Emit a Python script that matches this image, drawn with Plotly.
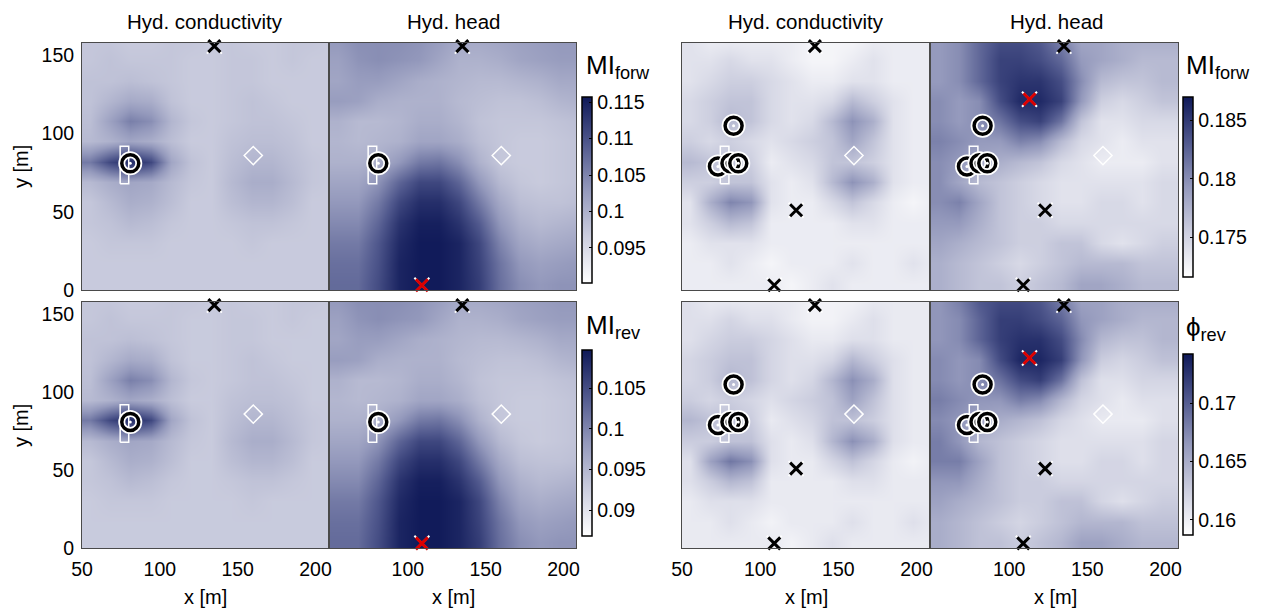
import plotly.graph_objects as go

# ---------------- grid nodes (m) ----------------
X_NODES = [55, 68, 81, 94, 107, 120, 133, 146, 159, 172, 185, 198, 211]
Y_NODES_TOP_DOWN = [160, 147, 134, 121, 108, 95, 82, 69, 56, 43, 30, 17, 4]

# ---------------- left group, MI_forw ----------------
K_FORW_LEFT = [
    [0.0975,0.0975,0.097,0.097,0.0975,0.0975,0.097,0.0975,0.097,0.097,0.0975,0.0975,0.097],
    [0.0975,0.098,0.0975,0.0975,0.0975,0.097,0.097,0.0975,0.0975,0.097,0.0975,0.097,0.097],
    [0.098,0.098,0.0985,0.098,0.0975,0.097,0.097,0.0975,0.0975,0.097,0.097,0.097,0.097],
    [0.098,0.0995,0.101,0.1005,0.098,0.097,0.097,0.0975,0.098,0.0975,0.097,0.097,0.097],
    [0.0985,0.102,0.1055,0.104,0.0995,0.0975,0.097,0.0975,0.098,0.098,0.0975,0.097,0.097],
    [0.099,0.1,0.1015,0.1005,0.0985,0.097,0.097,0.098,0.0985,0.0985,0.098,0.097,0.097],
    [0.106,0.111,0.114,0.111,0.1015,0.098,0.097,0.0985,0.0995,0.0995,0.0985,0.0975,0.097],
    [0.099,0.1005,0.1015,0.101,0.099,0.0975,0.097,0.099,0.1005,0.1005,0.099,0.0975,0.097],
    [0.0975,0.099,0.1005,0.1,0.0985,0.097,0.097,0.0985,0.0995,0.0995,0.0985,0.097,0.097],
    [0.0975,0.098,0.099,0.0985,0.0975,0.097,0.097,0.0975,0.098,0.098,0.0975,0.097,0.097],
    [0.097,0.0975,0.0975,0.0975,0.097,0.097,0.097,0.097,0.0975,0.097,0.097,0.097,0.097],
    [0.097,0.097,0.097,0.097,0.097,0.097,0.097,0.097,0.097,0.097,0.097,0.097,0.097],
    [0.097,0.097,0.097,0.097,0.097,0.097,0.097,0.097,0.097,0.097,0.097,0.097,0.097],
]
H_FORW_LEFT = [
    [0.103,0.104,0.104,0.104,0.1035,0.1025,0.101,0.101,0.1015,0.102,0.1025,0.103,0.103],
    [0.102,0.1035,0.104,0.1035,0.103,0.1015,0.1,0.1,0.1005,0.1015,0.102,0.1025,0.1025],
    [0.1015,0.1025,0.1025,0.1015,0.1005,0.1,0.0995,0.099,0.099,0.0995,0.1,0.101,0.101],
    [0.1025,0.102,0.1005,0.1,0.1,0.1,0.099,0.0985,0.098,0.098,0.0985,0.0995,0.1],
    [0.1,0.099,0.099,0.0995,0.1005,0.1005,0.0995,0.098,0.0975,0.0975,0.0975,0.098,0.0985],
    [0.0995,0.099,0.0995,0.1,0.1015,0.1015,0.1005,0.0985,0.0975,0.097,0.097,0.0975,0.098],
    [0.1,0.1,0.1005,0.103,0.106,0.1065,0.104,0.1,0.0975,0.097,0.097,0.0975,0.098],
    [0.1015,0.1015,0.1035,0.108,0.111,0.111,0.108,0.103,0.099,0.0975,0.097,0.0975,0.098],
    [0.103,0.103,0.106,0.111,0.1135,0.1135,0.111,0.106,0.101,0.0985,0.098,0.098,0.0985],
    [0.1045,0.1045,0.108,0.113,0.115,0.115,0.113,0.109,0.103,0.1,0.099,0.0995,0.1],
    [0.106,0.106,0.1095,0.114,0.1155,0.1155,0.1145,0.111,0.105,0.1015,0.1005,0.101,0.1015],
    [0.107,0.107,0.11,0.1145,0.1155,0.1155,0.1145,0.1115,0.1065,0.103,0.102,0.1025,0.103],
    [0.1075,0.1075,0.1105,0.1145,0.1155,0.1155,0.1145,0.112,0.107,0.104,0.103,0.1035,0.1035],
]
# ---------------- left group, MI_rev ----------------
K_REV_LEFT = [
    [0.0933,0.0933,0.0929,0.0929,0.0933,0.0933,0.0929,0.0933,0.0929,0.0929,0.0933,0.0933,0.0929],
    [0.0933,0.0938,0.0933,0.0933,0.0933,0.0929,0.0929,0.0933,0.0933,0.0929,0.0933,0.0929,0.0929],
    [0.0938,0.0938,0.0942,0.0938,0.0933,0.0929,0.0929,0.0933,0.0933,0.0929,0.0929,0.0929,0.0929],
    [0.0938,0.0951,0.0965,0.0960,0.0938,0.0929,0.0929,0.0933,0.0938,0.0933,0.0929,0.0929,0.0929],
    [0.0942,0.0974,0.1005,0.0992,0.0951,0.0933,0.0929,0.0933,0.0938,0.0938,0.0933,0.0929,0.0929],
    [0.0947,0.0956,0.0969,0.0960,0.0942,0.0929,0.0929,0.0938,0.0942,0.0942,0.0938,0.0929,0.0929],
    [0.1010,0.1055,0.1082,0.1055,0.0969,0.0938,0.0929,0.0942,0.0951,0.0951,0.0942,0.0933,0.0929],
    [0.0947,0.0960,0.0969,0.0965,0.0947,0.0933,0.0929,0.0947,0.0960,0.0960,0.0947,0.0933,0.0929],
    [0.0933,0.0947,0.0960,0.0956,0.0942,0.0929,0.0929,0.0942,0.0951,0.0951,0.0942,0.0929,0.0929],
    [0.0933,0.0938,0.0947,0.0942,0.0933,0.0929,0.0929,0.0933,0.0938,0.0938,0.0933,0.0929,0.0929],
    [0.0929,0.0933,0.0933,0.0933,0.0929,0.0929,0.0929,0.0929,0.0933,0.0929,0.0929,0.0929,0.0929],
    [0.0929,0.0929,0.0929,0.0929,0.0929,0.0929,0.0929,0.0929,0.0929,0.0929,0.0929,0.0929,0.0929],
    [0.0929,0.0929,0.0929,0.0929,0.0929,0.0929,0.0929,0.0929,0.0929,0.0929,0.0929,0.0929,0.0929],
]
H_REV_LEFT = [
    [0.0983,0.0992,0.0992,0.0992,0.0987,0.0978,0.0965,0.0965,0.0969,0.0974,0.0978,0.0983,0.0983],
    [0.0974,0.0987,0.0992,0.0987,0.0983,0.0969,0.0956,0.0956,0.0960,0.0969,0.0974,0.0978,0.0978],
    [0.0969,0.0978,0.0978,0.0969,0.0960,0.0956,0.0951,0.0947,0.0947,0.0951,0.0956,0.0965,0.0965],
    [0.0978,0.0974,0.0960,0.0956,0.0956,0.0956,0.0947,0.0942,0.0938,0.0938,0.0942,0.0951,0.0956],
    [0.0956,0.0947,0.0947,0.0951,0.0960,0.0960,0.0951,0.0938,0.0933,0.0933,0.0933,0.0938,0.0942],
    [0.0951,0.0947,0.0951,0.0956,0.0969,0.0969,0.0960,0.0942,0.0933,0.0929,0.0929,0.0933,0.0938],
    [0.0956,0.0956,0.0960,0.0983,0.1010,0.1014,0.0992,0.0956,0.0933,0.0929,0.0929,0.0933,0.0938],
    [0.0969,0.0969,0.0987,0.1028,0.1055,0.1055,0.1028,0.0983,0.0947,0.0933,0.0929,0.0933,0.0938],
    [0.0983,0.0983,0.1010,0.1055,0.1077,0.1077,0.1055,0.1010,0.0965,0.0942,0.0938,0.0938,0.0942],
    [0.0996,0.0996,0.1028,0.1073,0.1091,0.1091,0.1073,0.1037,0.0983,0.0956,0.0947,0.0951,0.0956],
    [0.1010,0.1010,0.1041,0.1082,0.1095,0.1095,0.1086,0.1055,0.1001,0.0969,0.0960,0.0965,0.0969],
    [0.1019,0.1019,0.1046,0.1086,0.1095,0.1095,0.1086,0.1059,0.1014,0.0983,0.0974,0.0978,0.0983],
    [0.1023,0.1023,0.1050,0.1086,0.1095,0.1095,0.1086,0.1064,0.1019,0.0992,0.0983,0.0987,0.0987],
]
# ---------------- right group, MI_forw ----------------
K_FORW_RIGHT = [
    [0.1739,0.1731,0.1731,0.1731,0.1731,0.1731,0.1724,0.1724,0.1724,0.1731,0.1731,0.1731,0.1731],
    [0.1739,0.1739,0.1746,0.1739,0.1739,0.1731,0.1724,0.1724,0.1731,0.1739,0.1731,0.1731,0.1731],
    [0.1739,0.1746,0.1754,0.1754,0.1746,0.1739,0.1731,0.1731,0.1739,0.1739,0.1731,0.1731,0.1731],
    [0.1746,0.1754,0.1762,0.1762,0.1746,0.1739,0.1739,0.1746,0.1769,0.1754,0.1739,0.1731,0.1731],
    [0.1746,0.1754,0.1769,0.1762,0.1746,0.1739,0.1746,0.1769,0.1797,0.1777,0.1739,0.1731,0.1731],
    [0.1754,0.1746,0.1754,0.1746,0.1739,0.1746,0.1754,0.1762,0.1784,0.1762,0.1739,0.1731,0.1731],
    [0.1769,0.1762,0.1762,0.1754,0.1731,0.1739,0.1746,0.1762,0.1762,0.1754,0.1739,0.1731,0.1731],
    [0.1754,0.1754,0.1762,0.1762,0.1739,0.1731,0.1739,0.1769,0.1797,0.1777,0.1739,0.1731,0.1731],
    [0.1739,0.1777,0.1805,0.1795,0.1739,0.1731,0.1731,0.1746,0.1762,0.1746,0.1731,0.1724,0.1731],
    [0.1739,0.1754,0.1769,0.1762,0.1731,0.1731,0.1731,0.1731,0.1739,0.1739,0.1731,0.1731,0.1731],
    [0.1731,0.1739,0.1739,0.1739,0.1731,0.1731,0.1731,0.1731,0.1731,0.1731,0.1731,0.1731,0.1731],
    [0.1731,0.1731,0.1739,0.1731,0.1724,0.1731,0.1731,0.1731,0.1739,0.1731,0.1731,0.1739,0.1731],
    [0.1731,0.1731,0.1731,0.1731,0.1731,0.1724,0.1731,0.1739,0.1731,0.1731,0.1731,0.1731,0.1731],
]
H_FORW_RIGHT = [
    [0.1792,0.1800,0.1822,0.1838,0.1838,0.1830,0.1807,0.1784,0.1784,0.1777,0.1777,0.1777,0.1777],
    [0.1792,0.1800,0.1822,0.1845,0.1845,0.1838,0.1822,0.1792,0.1784,0.1777,0.1769,0.1769,0.1769],
    [0.1792,0.1800,0.1822,0.1845,0.1853,0.1853,0.1838,0.1800,0.1769,0.1762,0.1762,0.1769,0.1769],
    [0.1800,0.1792,0.1800,0.1838,0.1860,0.1860,0.1845,0.1792,0.1754,0.1746,0.1754,0.1762,0.1762],
    [0.1800,0.1792,0.1800,0.1815,0.1838,0.1845,0.1815,0.1762,0.1739,0.1739,0.1746,0.1746,0.1746],
    [0.1807,0.1800,0.1792,0.1792,0.1807,0.1800,0.1769,0.1746,0.1739,0.1731,0.1739,0.1739,0.1739],
    [0.1800,0.1792,0.1784,0.1777,0.1769,0.1762,0.1746,0.1739,0.1731,0.1731,0.1731,0.1739,0.1739],
    [0.1800,0.1784,0.1769,0.1762,0.1754,0.1746,0.1739,0.1739,0.1739,0.1739,0.1739,0.1746,0.1746],
    [0.1800,0.1807,0.1784,0.1762,0.1754,0.1746,0.1739,0.1739,0.1746,0.1746,0.1739,0.1746,0.1746],
    [0.1792,0.1792,0.1777,0.1762,0.1754,0.1754,0.1746,0.1746,0.1746,0.1746,0.1746,0.1746,0.1746],
    [0.1784,0.1777,0.1769,0.1762,0.1754,0.1754,0.1762,0.1762,0.1746,0.1739,0.1746,0.1754,0.1754],
    [0.1777,0.1769,0.1762,0.1754,0.1746,0.1754,0.1762,0.1769,0.1769,0.1769,0.1762,0.1762,0.1762],
    [0.1777,0.1769,0.1762,0.1762,0.1754,0.1762,0.1769,0.1784,0.1784,0.1777,0.1769,0.1769,0.1769],
]
# ---------------- right group, phi_rev ----------------
K_REV_RIGHT = [
    [0.1612,0.1604,0.1604,0.1604,0.1604,0.1604,0.1597,0.1597,0.1597,0.1604,0.1604,0.1604,0.1604],
    [0.1612,0.1612,0.1620,0.1612,0.1612,0.1604,0.1597,0.1597,0.1604,0.1612,0.1604,0.1604,0.1604],
    [0.1612,0.1620,0.1627,0.1627,0.1620,0.1612,0.1604,0.1604,0.1612,0.1612,0.1604,0.1604,0.1604],
    [0.1620,0.1627,0.1635,0.1635,0.1620,0.1612,0.1612,0.1620,0.1643,0.1627,0.1612,0.1604,0.1604],
    [0.1620,0.1627,0.1643,0.1635,0.1620,0.1612,0.1620,0.1643,0.1670,0.1650,0.1612,0.1604,0.1604],
    [0.1627,0.1620,0.1627,0.1620,0.1612,0.1620,0.1627,0.1635,0.1658,0.1635,0.1612,0.1604,0.1604],
    [0.1643,0.1635,0.1635,0.1627,0.1604,0.1612,0.1620,0.1635,0.1635,0.1627,0.1612,0.1604,0.1604],
    [0.1627,0.1627,0.1635,0.1635,0.1612,0.1604,0.1612,0.1643,0.1670,0.1650,0.1612,0.1604,0.1604],
    [0.1612,0.1658,0.1685,0.1670,0.1612,0.1604,0.1604,0.1620,0.1635,0.1620,0.1604,0.1597,0.1604],
    [0.1612,0.1627,0.1643,0.1635,0.1604,0.1604,0.1604,0.1604,0.1612,0.1612,0.1604,0.1604,0.1604],
    [0.1604,0.1612,0.1612,0.1612,0.1604,0.1604,0.1604,0.1604,0.1604,0.1604,0.1604,0.1604,0.1604],
    [0.1604,0.1604,0.1612,0.1604,0.1597,0.1604,0.1604,0.1604,0.1612,0.1604,0.1604,0.1612,0.1604],
    [0.1604,0.1604,0.1604,0.1604,0.1604,0.1597,0.1604,0.1612,0.1604,0.1604,0.1604,0.1604,0.1604],
]
H_REV_RIGHT = [
    [0.1666,0.1681,0.1704,0.1711,0.1711,0.1704,0.1681,0.1658,0.1658,0.1650,0.1650,0.1650,0.1650],
    [0.1666,0.1673,0.1696,0.1719,0.1719,0.1711,0.1696,0.1666,0.1658,0.1650,0.1643,0.1643,0.1643],
    [0.1666,0.1673,0.1696,0.1719,0.1727,0.1727,0.1711,0.1673,0.1643,0.1635,0.1635,0.1643,0.1643],
    [0.1673,0.1666,0.1673,0.1711,0.1734,0.1734,0.1719,0.1666,0.1627,0.1620,0.1627,0.1635,0.1635],
    [0.1673,0.1666,0.1673,0.1688,0.1711,0.1719,0.1688,0.1635,0.1612,0.1612,0.1620,0.1620,0.1620],
    [0.1681,0.1673,0.1666,0.1666,0.1681,0.1673,0.1643,0.1620,0.1612,0.1604,0.1612,0.1612,0.1612],
    [0.1673,0.1666,0.1658,0.1650,0.1643,0.1635,0.1620,0.1612,0.1604,0.1604,0.1604,0.1612,0.1612],
    [0.1681,0.1666,0.1643,0.1635,0.1627,0.1620,0.1612,0.1612,0.1612,0.1612,0.1612,0.1620,0.1620],
    [0.1681,0.1681,0.1658,0.1635,0.1627,0.1620,0.1612,0.1612,0.1620,0.1620,0.1612,0.1620,0.1620],
    [0.1666,0.1666,0.1650,0.1635,0.1627,0.1627,0.1620,0.1620,0.1620,0.1620,0.1620,0.1620,0.1620],
    [0.1658,0.1650,0.1643,0.1635,0.1627,0.1627,0.1635,0.1635,0.1620,0.1612,0.1620,0.1627,0.1627],
    [0.1650,0.1643,0.1635,0.1627,0.1620,0.1627,0.1635,0.1643,0.1643,0.1643,0.1635,0.1635,0.1635],
    [0.1650,0.1643,0.1635,0.1635,0.1627,0.1635,0.1643,0.1658,0.1658,0.1650,0.1643,0.1643,0.1643],
]

# ---------------- colour ranges / ticks ----------------
CB_RANGES = [(0.0902, 0.1157), (0.0868, 0.1097), (0.1716, 0.1870), (0.1587, 0.1742)]
CB_TICKS = [[0.095, 0.1, 0.105, 0.11, 0.115], [0.09, 0.095, 0.1, 0.105],
            [0.175, 0.18, 0.185], [0.16, 0.165, 0.17]]
CB_TICKTEXT = [["0.095", "0.1", "0.105", "0.11", "0.115"], ["0.09", "0.095", "0.1", "0.105"],
               ["0.175", "0.18", "0.185"], ["0.16", "0.165", "0.17"]]
CB_TITLES = ["MI<sub>forw</sub>", "MI<sub>rev</sub>", "MI<sub>forw</sub>", "ϕ<sub>rev</sub>"]

# ---------------- markers (m) ----------------
WELL_X = [74.5, 80.0]
WELL_Y = [68.0, 92.0]
DIAMOND_X, DIAMOND_Y = [160], [86]
CIRC_LEFT_X, CIRC_LEFT_Y = [81], [81]
CIRC_RIGHT_X, CIRC_RIGHT_Y = [83, 73, 81, 86], [105, 79, 81, 81]
BLACK_LEFT_X, BLACK_LEFT_Y = [135], [156]
RED_LEFT_X, RED_LEFT_Y = [109], [3]
BLACK_RIGHT_X, BLACK_RIGHT_Y = [135, 123, 109], [156, 51, 3]
RED_RIGHT_X, RED_RIGHT_Y = [113], [122]

X_RANGE = [50, 208]
Y_RANGE = [0, 158]

W, H = 1269, 610
FONT = "Liberation Sans, Arial, Helvetica, sans-serif"
CSCALE = [[0.0, "rgb(255,255,255)"], [0.25, "rgb(204,206,223)"],
          [0.5, "rgb(148,153,188)"], [0.75, "rgb(80,88,141)"], [1.0, "rgb(15,25,88)"]]

COLS = [(82, 328), (330, 576), (682, 929), (931, 1178)]
ROWS = [(43, 290), (302, 548)]

fig = go.Figure()

panels = [
    (K_FORW_LEFT, 0, 0, "coloraxis", "left", False),
    (H_FORW_LEFT, 0, 1, "coloraxis", "left", True),
    (K_FORW_RIGHT, 0, 2, "coloraxis3", "right", False),
    (H_FORW_RIGHT, 0, 3, "coloraxis3", "right", True),
    (K_REV_LEFT, 1, 0, "coloraxis2", "left", False),
    (H_REV_LEFT, 1, 1, "coloraxis2", "left", True),
    (K_REV_RIGHT, 1, 2, "coloraxis4", "right", False),
    (H_REV_RIGHT, 1, 3, "coloraxis4", "right", True),
]


def pts(xs, ys, xa, ya, **marker):
    return go.Scatter(x=xs, y=ys, mode="markers", marker=marker, xaxis=xa, yaxis=ya,
                      showlegend=False, hoverinfo="skip", cliponaxis=False)


y_up = Y_NODES_TOP_DOWN[::-1]
layout_axes = {}
for i, (z, r, c, ca, grp, head) in enumerate(panels):
    n = i + 1
    xs = "x" if n == 1 else f"x{n}"
    ys = "y" if n == 1 else f"y{n}"
    fig.add_trace(go.Heatmap(x=X_NODES, y=y_up, z=z[::-1], coloraxis=ca,
                             zsmooth="best", xaxis=xs, yaxis=ys, hoverinfo="skip"))
    fig.add_trace(go.Scatter(x=[WELL_X[0], WELL_X[1], WELL_X[1], WELL_X[0], WELL_X[0]],
                             y=[WELL_Y[0], WELL_Y[0], WELL_Y[1], WELL_Y[1], WELL_Y[0]],
                             mode="lines", line=dict(color="white", width=1.5),
                             xaxis=xs, yaxis=ys, showlegend=False, hoverinfo="skip"))
    fig.add_trace(pts(DIAMOND_X, DIAMOND_Y, xs, ys, symbol="diamond-open", size=14,
                      color="white", line=dict(width=1.5, color="white")))
    cx, cy = (CIRC_LEFT_X, CIRC_LEFT_Y) if grp == "left" else (CIRC_RIGHT_X, CIRC_RIGHT_Y)
    for px_, py_ in zip(cx, cy):
        fig.add_trace(pts([px_], [py_], xs, ys, symbol="circle-open", size=17, color="white",
                          line=dict(width=7, color="white")))
        fig.add_trace(pts([px_], [py_], xs, ys, symbol="circle-open", size=17, color="black",
                          line=dict(width=3.5, color="black")))
        fig.add_trace(pts([px_], [py_], xs, ys, symbol="circle", size=3, color="white",
                          line=dict(width=0)))
    bx, by = (BLACK_LEFT_X, BLACK_LEFT_Y) if grp == "left" else (BLACK_RIGHT_X, BLACK_RIGHT_Y)
    xsets = [(bx, by, "black")]
    if head:
        if grp == "left":
            xsets.append((RED_LEFT_X, RED_LEFT_Y, "rgb(220,0,0)"))
        else:
            xsets.append((RED_RIGHT_X, RED_RIGHT_Y, "rgb(220,0,0)"))
    for (mx, my, col) in xsets:
        fig.add_trace(pts(mx, my, xs, ys, symbol="x-thin-open", size=15, color="white",
                          line=dict(width=2, color="white")))
        fig.add_trace(pts(mx, my, xs, ys, symbol="x-thin-open", size=12, color=col,
                          line=dict(width=3, color=col)))

    x0, x1 = COLS[c]
    y0, y1 = ROWS[r]
    xdom = [x0 / W, x1 / W]
    ydom = [1 - y1 / H, 1 - y0 / H]
    xkey = "xaxis" if n == 1 else f"xaxis{n}"
    ykey = "yaxis" if n == 1 else f"yaxis{n}"
    show_x = r == 1
    show_y = c == 0
    xticks = [50, 100, 150, 200] if c in (0, 2) else [100, 150, 200]
    layout_axes[xkey] = dict(domain=xdom, range=X_RANGE, anchor=ys, showgrid=False,
                             zeroline=False, showline=True, mirror=True, automargin=False,
                             linecolor="#4a4a4a", linewidth=1,
                             showticklabels=show_x, tickvals=xticks,
                             ticks="outside", ticklen=4, tickcolor="rgba(0,0,0,0)",
                             tickfont=dict(size=19.5, color="black", family=FONT))
    layout_axes[ykey] = dict(domain=ydom, range=Y_RANGE, anchor=xs, showgrid=False,
                             zeroline=False, showline=True, mirror=True, automargin=False,
                             linecolor="#4a4a4a", linewidth=1,
                             showticklabels=show_y, tickvals=[0, 50, 100, 150],
                             ticks="outside", ticklen=3, tickcolor="rgba(0,0,0,0)",
                             tickfont=dict(size=19.5, color="black", family=FONT))

CB_BOX = [(582, 97, 283), (582, 350, 536), (1183, 97, 277), (1183, 354, 535)]
for k in range(4):
    key = "coloraxis" if k == 0 else f"coloraxis{k + 1}"
    bx, btop, bbot = CB_BOX[k]
    layout_axes[key] = dict(
        colorscale=CSCALE, cmin=CB_RANGES[k][0], cmax=CB_RANGES[k][1],
        colorbar=dict(x=bx / W, xanchor="left", y=1 - btop / H, yanchor="top",
                      lenmode="pixels", len=bbot - btop, thicknessmode="pixels",
                      thickness=10, xpad=0, ypad=0, outlinewidth=1.5, outlinecolor="black",
                      tickvals=CB_TICKS[k], ticktext=CB_TICKTEXT[k], ticks="inside",
                      ticklen=3, tickcolor="black",
                      tickfont=dict(size=19.5, color="black", family=FONT)))

annotations = []
for (cx_, txt) in [(205, "Hyd. conductivity"), (453, "Hyd. head"),
                   (806, "Hyd. conductivity"), (1056, "Hyd. head")]:
    annotations.append(dict(x=cx_ / W, y=1 - 22 / H, xref="paper", yref="paper",
                            text=txt, showarrow=False, xanchor="center", yanchor="middle",
                            font=dict(size=20.5, color="black", family=FONT)))
for cx_ in [205, 453, 806, 1055]:
    annotations.append(dict(x=cx_ / W, y=1 - 597 / H, xref="paper", yref="paper",
                            text="x [m]", showarrow=False, xanchor="center", yanchor="middle",
                            font=dict(size=20, color="black", family=FONT)))
for cy_ in [167, 426]:
    annotations.append(dict(x=21 / W, y=1 - cy_ / H, xref="paper", yref="paper",
                            text="y [m]", showarrow=False, textangle=-90,
                            xanchor="center", yanchor="middle",
                            font=dict(size=20, color="black", family=FONT)))
for (tx, ty, txt) in [(584, 48, CB_TITLES[0]), (584, 308, CB_TITLES[1]),
                      (1184, 48, CB_TITLES[2]), (1184, 310, CB_TITLES[3])]:
    annotations.append(dict(x=tx / W, y=1 - ty / H, xref="paper", yref="paper",
                            text=txt, showarrow=False, xanchor="left", yanchor="top",
                            font=dict(size=26, color="black", family=FONT)))

fig.update_layout(width=W, height=H, margin=dict(l=0, r=0, t=0, b=0),
                  paper_bgcolor="white", plot_bgcolor="white", showlegend=False,
                  annotations=annotations, font=dict(family=FONT, color="black"),
                  **layout_axes)

fig.write_html("out.html")
